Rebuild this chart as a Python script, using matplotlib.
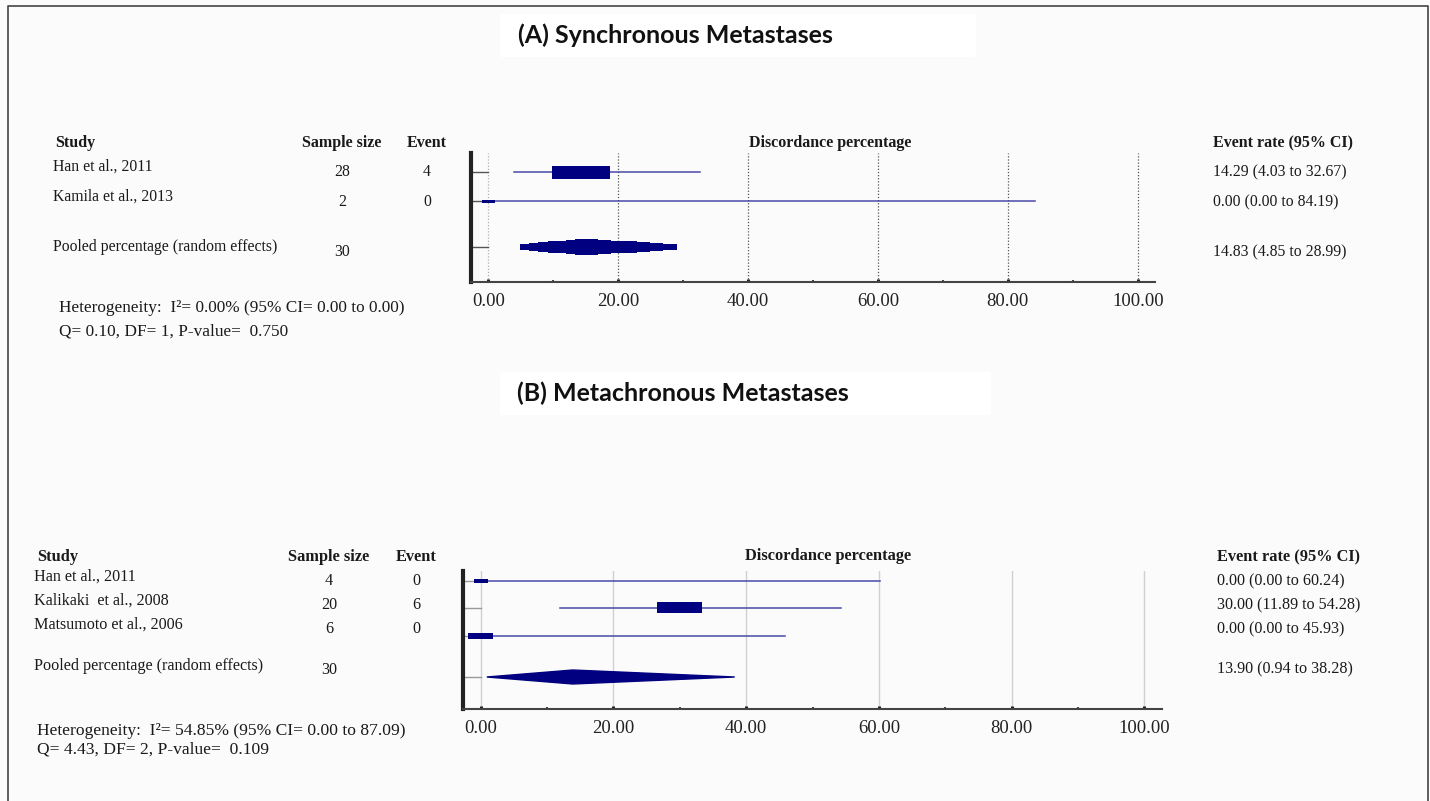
import numpy as np
import matplotlib
matplotlib.use("Agg")
import matplotlib.pyplot as plt
from matplotlib.lines import Line2D
from matplotlib.patches import Polygon, Rectangle

# ---------------- data ----------------
A_studies = ["Han et al., 2011", "Kamila et al., 2013"]
A_n = [28, 2]
A_events = [4, 0]
A_rate = [14.29, 0.00]
A_lo = [4.03, 0.00]
A_hi = [32.67, 84.19]
A_pool_n = 30
A_pool = [14.83, 4.85, 28.99]
A_het = ["Heterogeneity:  I\u00b2= 0.00% (95% CI= 0.00 to 0.00)",
         "Q= 0.10, DF= 1, P-value=  0.750"]

B_studies = ["Han et al., 2011", "Kalikaki  et al., 2008", "Matsumoto et al., 2006"]
B_n = [4, 20, 6]
B_events = [0, 6, 0]
B_rate = [0.00, 30.00, 0.00]
B_lo = [0.00, 11.89, 0.00]
B_hi = [60.24, 54.28, 45.93]
B_pool_n = 30
B_pool = [13.90, 0.94, 38.28]
B_het = ["Heterogeneity:  I\u00b2= 54.85% (95% CI= 0.00 to 87.09)",
         "Q= 4.43, DF= 2, P-value=  0.109"]

x_ticks = [0, 20, 40, 60, 80, 100]
x_minor = [10, 30, 50, 70, 90]

# ---------------- layout / style ----------------
W, H = 1430, 801
fig = plt.figure(figsize=(W / 100, H / 100), dpi=100)
fig.patch.set_facecolor("#fbfbfb")
SERIF = "Liberation Serif"
NAVY = "#000080"
CI_COL = "#4a4aa8"


def fx(x):
    return x / W


def fy(y):
    return 1 - y / H


def ftext(x, y, s, **kw):
    kw.setdefault("family", SERIF)
    kw.setdefault("color", "#1a1a1a")
    kw.setdefault("va", "center")
    fig.text(fx(x), fy(y), s, **kw)


# outer frame (left, top, right)
fig.add_artist(Line2D([fx(8), fx(8), fx(1428), fx(1428)],
                      [fy(801), fy(6), fy(6), fy(801)],
                      transform=fig.transFigure, color="#444444", lw=1.2))

# title backgrounds
fig.add_artist(Rectangle((fx(500), fy(56)), fx(475), fy(14) - fy(56),
                         transform=fig.transFigure, color="white", zorder=0))
fig.add_artist(Rectangle((fx(500), fy(414)), fx(490), fy(372) - fy(414),
                         transform=fig.transFigure, color="white", zorder=0))


def panel(ax_px, row_y, pool_y, ylim, rate, lo, hi, pool,
          box_w, box_h, pool_h, stepped, grid_style, tick_col):
    left, top, right, bottom = ax_px
    ax = fig.add_axes([fx(left), fy(bottom), fx(right - left), fy(top) - fy(bottom)])
    ax.set_facecolor("none")
    ax.set_xlim(-2.65, 102.65)
    ax.set_ylim(*ylim)
    # grid
    for t in x_ticks:
        if grid_style == "dotted":
            col = "#b0b0b0" if t == 0 else "#555555"
            ax.axvline(t, color=col, lw=0.9, ls=(0, (1, 1.5)), zorder=1)
        else:
            ax.axvline(t, color="#d0d0d0", lw=1.0, zorder=1)
    # row ticks (from spine to zero)
    for y in list(row_y) + [pool_y]:
        ax.plot([ax.get_xlim()[0], 0], [y, y], color=tick_col, lw=1.0, zorder=1)
    # CIs and boxes
    for i, y in enumerate(row_y):
        ax.plot([lo[i], hi[i]], [y, y], color=CI_COL, lw=1.1, zorder=2)
        ax.barh(y, box_w[i], left=rate[i] - box_w[i] / 2, height=box_h[i],
                color=NAVY, zorder=3)
    est, plo, phi = pool
    if stepped:
        levels = 7
        for k in range(levels):
            f = k / levels
            l = plo + f * (est - plo)
            r = phi - f * (phi - est)
            hgt = pool_h * (0.3 + 0.7 * (k + 1) / levels)
            ax.barh(pool_y, r - l, left=l, height=hgt, color=NAVY, zorder=3)
    else:
        ax.add_patch(Polygon([(plo, pool_y), (est, pool_y - pool_h / 2),
                              (phi, pool_y), (est, pool_y + pool_h / 2)],
                             closed=True, color=NAVY, zorder=3))
    # axes styling
    for s in ["top", "right"]:
        ax.spines[s].set_visible(False)
    ax.spines["left"].set_linewidth(3)
    ax.spines["left"].set_color("#222222")
    ax.spines["bottom"].set_linewidth(1.5)
    ax.spines["bottom"].set_color("#444444")
    ax.set_yticks([])
    ax.set_xticks(x_ticks)
    ax.set_xticks(x_minor, minor=True)
    ax.set_xticklabels([f"{t:.2f}" for t in x_ticks], family=SERIF,
                       fontsize=13.5, color="#222222")
    ax.tick_params(axis="x", which="major", direction="in", length=2.5,
                   width=2.2, color="#222222", pad=8)
    ax.tick_params(axis="x", which="minor", direction="in", length=1.5,
                   width=1.5, color="#444444")
    return ax


# ---------------- panel A ----------------
ftext(675, 35, "(A) Synchronous Metastases", family="Lato", weight="bold",
      fontsize=18, ha="center", color="#111111")
A_rows = [172, 201]
A_pool_y = 247
panel((471, 153, 1155, 282), A_rows, A_pool_y, (282, 153), A_rate, A_lo, A_hi,
      A_pool, box_w=[9.0, 2.0], box_h=[13, 3], pool_h=16, stepped=True,
      grid_style="dotted", tick_col="#555555")

fsA = 11.3
ftext(55, 143, "Study", weight="bold", fontsize=11.5)
ftext(342, 143, "Sample size", weight="bold", fontsize=11.5, ha="center")
ftext(427, 143, "Event", weight="bold", fontsize=11.5, ha="center")
ftext(830, 143, "Discordance percentage", weight="bold", fontsize=11.5, ha="center")
ftext(1213, 143, "Event rate (95% CI)", weight="bold", fontsize=11.5)
A_text_y = [167, 197]
A_num_y = [172, 202]
for i, s in enumerate(A_studies):
    ftext(53, A_text_y[i], s, fontsize=fsA)
    ftext(342, A_num_y[i], str(A_n[i]), fontsize=fsA, ha="center")
    ftext(427, A_num_y[i], str(A_events[i]), fontsize=fsA, ha="center")
    ftext(1213, A_num_y[i], f"{A_rate[i]:.2f} ({A_lo[i]:.2f} to {A_hi[i]:.2f})", fontsize=fsA)
ftext(53, 247, "Pooled percentage (random effects)", fontsize=fsA)
ftext(342, 252, str(A_pool_n), fontsize=fsA, ha="center")
ftext(1213, 252, f"{A_pool[0]:.2f} ({A_pool[1]:.2f} to {A_pool[2]:.2f})", fontsize=fsA)
ftext(59, 308, A_het[0], fontsize=12.4)
ftext(59, 331, A_het[1], fontsize=12.4)

# ---------------- panel B ----------------
ftext(683, 393, "(B) Metachronous Metastases", family="Lato", weight="bold",
      fontsize=18, ha="center", color="#111111")
B_rows = [581, 608, 636]
B_pool_y = 677
panel((463, 571, 1162, 709), B_rows, B_pool_y, (709, 571), B_rate, B_lo, B_hi,
      B_pool, box_w=[2.1, 6.8, 3.7], box_h=[4, 11, 6], pool_h=14, stepped=False,
      grid_style="solid", tick_col="#999999")

fsB = 11.6
ftext(37, 557, "Study", weight="bold", fontsize=11.8)
ftext(329, 557, "Sample size", weight="bold", fontsize=11.8, ha="center")
ftext(416, 557, "Event", weight="bold", fontsize=11.8, ha="center")
ftext(828, 556, "Discordance percentage", weight="bold", fontsize=11.8, ha="center")
ftext(1217, 557, "Event rate (95% CI)", weight="bold", fontsize=11.8)
B_text_y = [577, 601, 625]
B_num_y = [581, 605, 629]
for i, s in enumerate(B_studies):
    ftext(34, B_text_y[i], s, fontsize=fsB)
    ftext(329, B_num_y[i], str(B_n[i]), fontsize=fsB, ha="center")
    ftext(416, B_num_y[i], str(B_events[i]), fontsize=fsB, ha="center")
    ftext(1217, B_num_y[i], f"{B_rate[i]:.2f} ({B_lo[i]:.2f} to {B_hi[i]:.2f})", fontsize=fsB)
ftext(34, 666, "Pooled percentage (random effects)", fontsize=fsB)
ftext(329, 670, str(B_pool_n), fontsize=fsB, ha="center")
ftext(1217, 669, f"{B_pool[0]:.2f} ({B_pool[1]:.2f} to {B_pool[2]:.2f})", fontsize=fsB)
ftext(37, 731, B_het[0], fontsize=12.6)
ftext(37, 749, B_het[1], fontsize=12.6)

fig.savefig("out.png", dpi=100, facecolor=fig.get_facecolor())
